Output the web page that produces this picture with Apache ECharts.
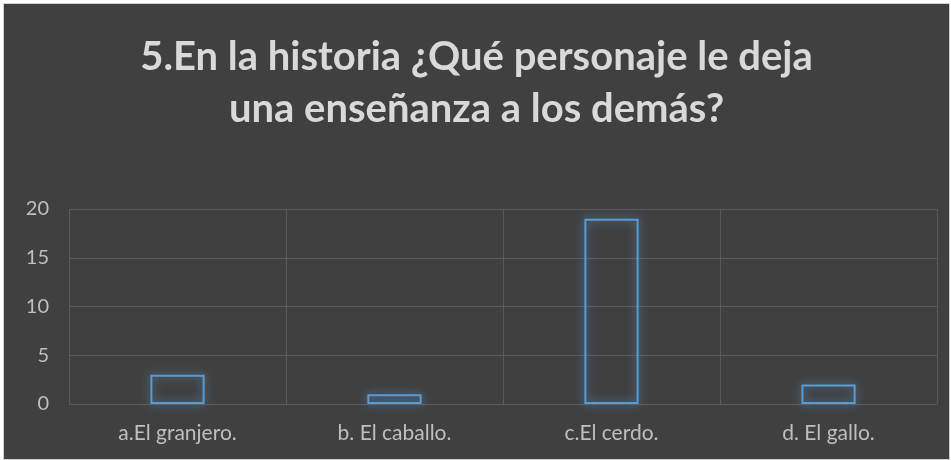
<!DOCTYPE html>
<html lang="es">
<head>
  <meta charset="utf-8">
  <title>personaje</title>
  <script src="https://cdn.jsdelivr.net/npm/echarts@6/dist/echarts.min.js"></script>
  <style>
    html, body { margin: 0; padding: 0; background: #ffffff; }
    #chart { position: absolute; left: 3px; top: 3px; width: 945px; height: 455px; border: 1px solid #d0d0d0; }
  </style>
</head>
<body>
<div id="chart"></div>
<script>
  var categorias = ['a.El granjero.', 'b. El caballo.', 'c.El cerdo.', 'd. El gallo.'];
  var valores = [3, 1, 19, 2];
  var tituloTexto = '5.En la historia ¿Qué personaje le deja\nuna enseñanza a los demás?';

  var chart = echarts.init(document.getElementById('chart'));
  var option = {
    backgroundColor: '#404040',
    title: {
      text: tituloTexto,
      left: 'center',
      top: 22,
      padding: [5, 0, 5, 14],
      textStyle: {
        color: '#d9d9d9',
        fontFamily: 'Lato',
        fontWeight: 'bold',
        fontSize: 40,
        lineHeight: 52
      }
    },
    grid: { left: 65, right: 12, top: 205, bottom: 55 },
    xAxis: {
      type: 'category',
      data: categorias,
      axisLine: { show: false },
      axisTick: { show: false },
      splitLine: { show: true, lineStyle: { color: '#5a5a5a', width: 1 } },
      axisLabel: { color: '#bfbfbf', fontSize: 21, fontFamily: 'Lato', margin: 19 }
    },
    yAxis: {
      type: 'value',
      min: 0,
      max: 20,
      interval: 5,
      axisLine: { show: false },
      axisTick: { show: false },
      splitLine: { lineStyle: { color: '#5a5a5a', width: 1 } },
      axisLabel: { color: '#bfbfbf', fontSize: 20, fontFamily: 'Lato', margin: 20 }
    },
    series: [{
      type: 'bar',
      data: valores,
      barWidth: '25%',
      itemStyle: {
        color: 'rgba(0,0,0,0)',
        borderColor: '#5b9bd5',
        borderWidth: 2,
        shadowColor: 'rgba(91,155,213,0.9)',
        shadowBlur: 10
      }
    }]
  };
  chart.setOption(option);
  window.addEventListener('resize', function () { chart.resize(); });
</script>
</body>
</html>
